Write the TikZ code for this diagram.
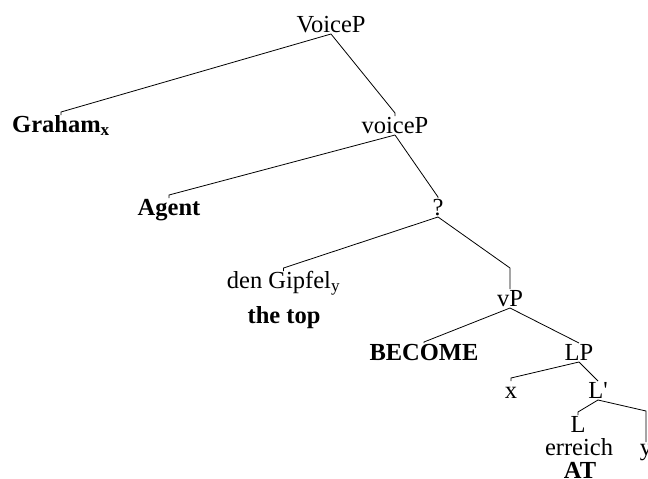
\documentclass[tikz,border=0pt]{standalone}
\usepackage{fontspec}
\setmainfont{Liberation Serif}
\begin{document}
\begin{tikzpicture}[x=1pt,y=-1pt,
  lbl/.style={anchor=base,inner sep=0pt,outer sep=0pt,
    text height=17pt,text depth=2pt,
    font=\fontsize{24.5}{28}\selectfont},
  blbl/.style={lbl,font=\fontsize{24.5}{28}\selectfont\bfseries},
  branch/.style={line width=0.8pt,line join=miter}]
\useasboundingbox (0,0) rectangle (648,479);

% labels
\node[lbl]  (VoiceP) at (331,32)  {VoiceP};
\node[blbl] (Graham) at (61,132)  {Graham\textsubscript{x}};
\node[lbl]  (voiceP) at (395,133) {voiceP};
\node[blbl] (Agent)  at (169,215) {Agent};
\node[lbl]  (Q)      at (438,215) {?};
\node[lbl]  (Gipfel) at (283.5,288) {den Gipfel\textsubscript{y}};
\node[blbl] (TheTop) at (284,323) {the top};
\node[lbl]  (vP)     at (510,306) {vP};
\node[blbl] (Become) at (424,360) {BECOME};
\node[lbl]  (LP)     at (579,360) {LP};
\node[lbl]  (X)      at (511,398) {x};
\node[lbl]  (Lbar)   at (598,398) {L\textquotesingle};
\node[lbl]  (L)      at (578,432) {L};
\node[lbl]  (Erreich) at (579,455) {erreich};
\node[blbl] (AT)     at (580,478) {AT};
\node[lbl]  (Y)      at (646,455) {y};

% branches: diagonal to a point above the daughter, then straight down
\draw[branch] (VoiceP.south) -- ([yshift=3pt]Graham.north) -- (Graham.north);
\draw[branch] (VoiceP.south) -- ([yshift=3pt]voiceP.north) -- (voiceP.north);
\draw[branch] (voiceP.south) -- ([yshift=3pt]Agent.north) -- (Agent.north);
\draw[branch] (voiceP.south) -- ([yshift=1pt]Q.north) -- (Q.north);
\draw[branch] (Q.south) -- ([yshift=3pt]Gipfel.north) -- (Gipfel.north);
\draw[branch] (Q.south) -- ([yshift=21pt]vP.north) -- (vP.north);
\draw[branch] (vP.south) -- ([yshift=1pt]Become.north) -- (Become.north);
\draw[branch] (vP.south) -- (LP.north);
\draw[branch] (LP.south) -- ([yshift=3pt]X.north) -- (X.north);
\draw[branch] (LP.south) -- (Lbar.north);
\draw[branch] (Lbar.south) -- ([yshift=3pt]L.north) -- (L.north);
\draw[branch] (Lbar.south) -- ([yshift=27pt]Y.north) -- ([yshift=-4pt]Y.north);
\end{tikzpicture}
\end{document}
